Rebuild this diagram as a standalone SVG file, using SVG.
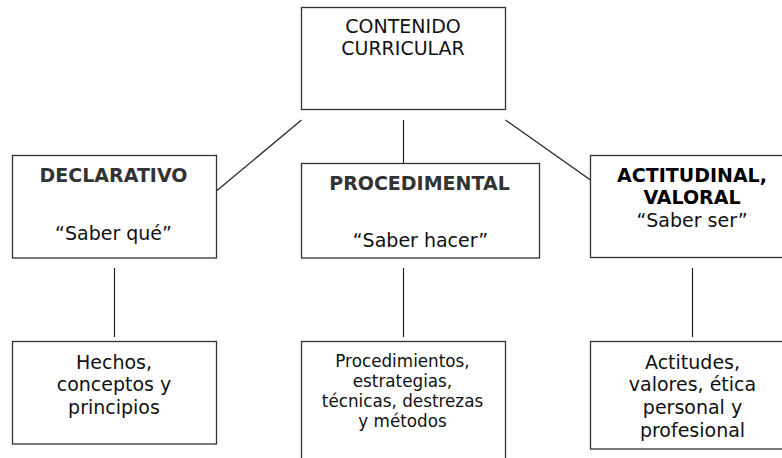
<svg xmlns="http://www.w3.org/2000/svg" width="782" height="458" viewBox="0 0 782 458">
<style>
  .box { fill: #ffffff; stroke: #333333; stroke-width: 1.3; }
  .conn { stroke: #222222; stroke-width: 1.2; fill: none; }
  text { font-family: "DejaVu Sans", Verdana, sans-serif; fill: #111111; text-anchor: middle; }
  .t { font-size: 19px; }
  .s { font-size: 16.8px; }
  .b { font-size: 19px; font-weight: bold; fill: #333333; }
  .bk { font-size: 19px; font-weight: bold; fill: #000000; }
</style>
<rect width="782" height="458" fill="#ffffff"/>
<g id="connectors">
  <line class="conn" x1="301.5" y1="120" x2="217" y2="190.5"/>
  <line class="conn" x1="403.5" y1="120" x2="403.5" y2="163"/>
  <line class="conn" x1="505.5" y1="120" x2="590.5" y2="180"/>
  <line class="conn" x1="114.5" y1="268" x2="114.5" y2="337"/>
  <line class="conn" x1="403.5" y1="268" x2="403.5" y2="337"/>
  <line class="conn" x1="692.5" y1="268" x2="692.5" y2="337"/>
</g>
<g id="contenido">
  <rect class="box" x="301.5" y="7.5" width="204" height="102"/>
  <text class="t" x="403" y="33">CONTENIDO</text>
  <text class="t" x="403" y="55">CURRICULAR</text>
</g>
<g id="declarativo">
  <rect class="box" x="12.5" y="155.5" width="204" height="102.5"/>
  <text class="b" x="113.5" y="182">DECLARATIVO</text>
  <text class="t" x="113.5" y="240">“Saber qué”</text>
</g>
<g id="procedimental">
  <rect class="box" x="301.5" y="163.5" width="238" height="94.5"/>
  <text class="b" x="419.5" y="190">PROCEDIMENTAL</text>
  <text class="t" x="420.5" y="247">“Saber hacer”</text>
</g>
<g id="actitudinal">
  <rect class="box" x="590.5" y="155.5" width="203" height="102"/>
  <text class="bk" x="692" y="182">ACTITUDINAL,</text>
  <text class="bk" x="692" y="204">VALORAL</text>
  <text class="t" x="692" y="226.5">“Saber ser”</text>
</g>
<g id="hechos">
  <rect class="box" x="12.5" y="341.5" width="204" height="102.5"/>
  <text class="t" x="114" y="368.5">Hechos,</text>
  <text class="t" x="114" y="391">conceptos y</text>
  <text class="t" x="114" y="413.5">principios</text>
</g>
<g id="procedimientos">
  <rect class="box" x="301.5" y="341.5" width="204" height="130"/>
  <text class="s" x="402.5" y="367">Procedimientos,</text>
  <text class="s" x="402.5" y="387">estrategias,</text>
  <text class="s" x="402.5" y="407">técnicas, destrezas</text>
  <text class="s" x="402.5" y="427">y métodos</text>
</g>
<g id="actitudes">
  <rect class="box" x="590.5" y="341.5" width="203" height="107.5"/>
  <text class="t" x="692.5" y="369">Actitudes,</text>
  <text class="t" x="692.5" y="391">valores, ética</text>
  <text class="t" x="692.5" y="414">personal y</text>
  <text class="t" x="692.5" y="436.5">profesional</text>
</g>
</svg>
